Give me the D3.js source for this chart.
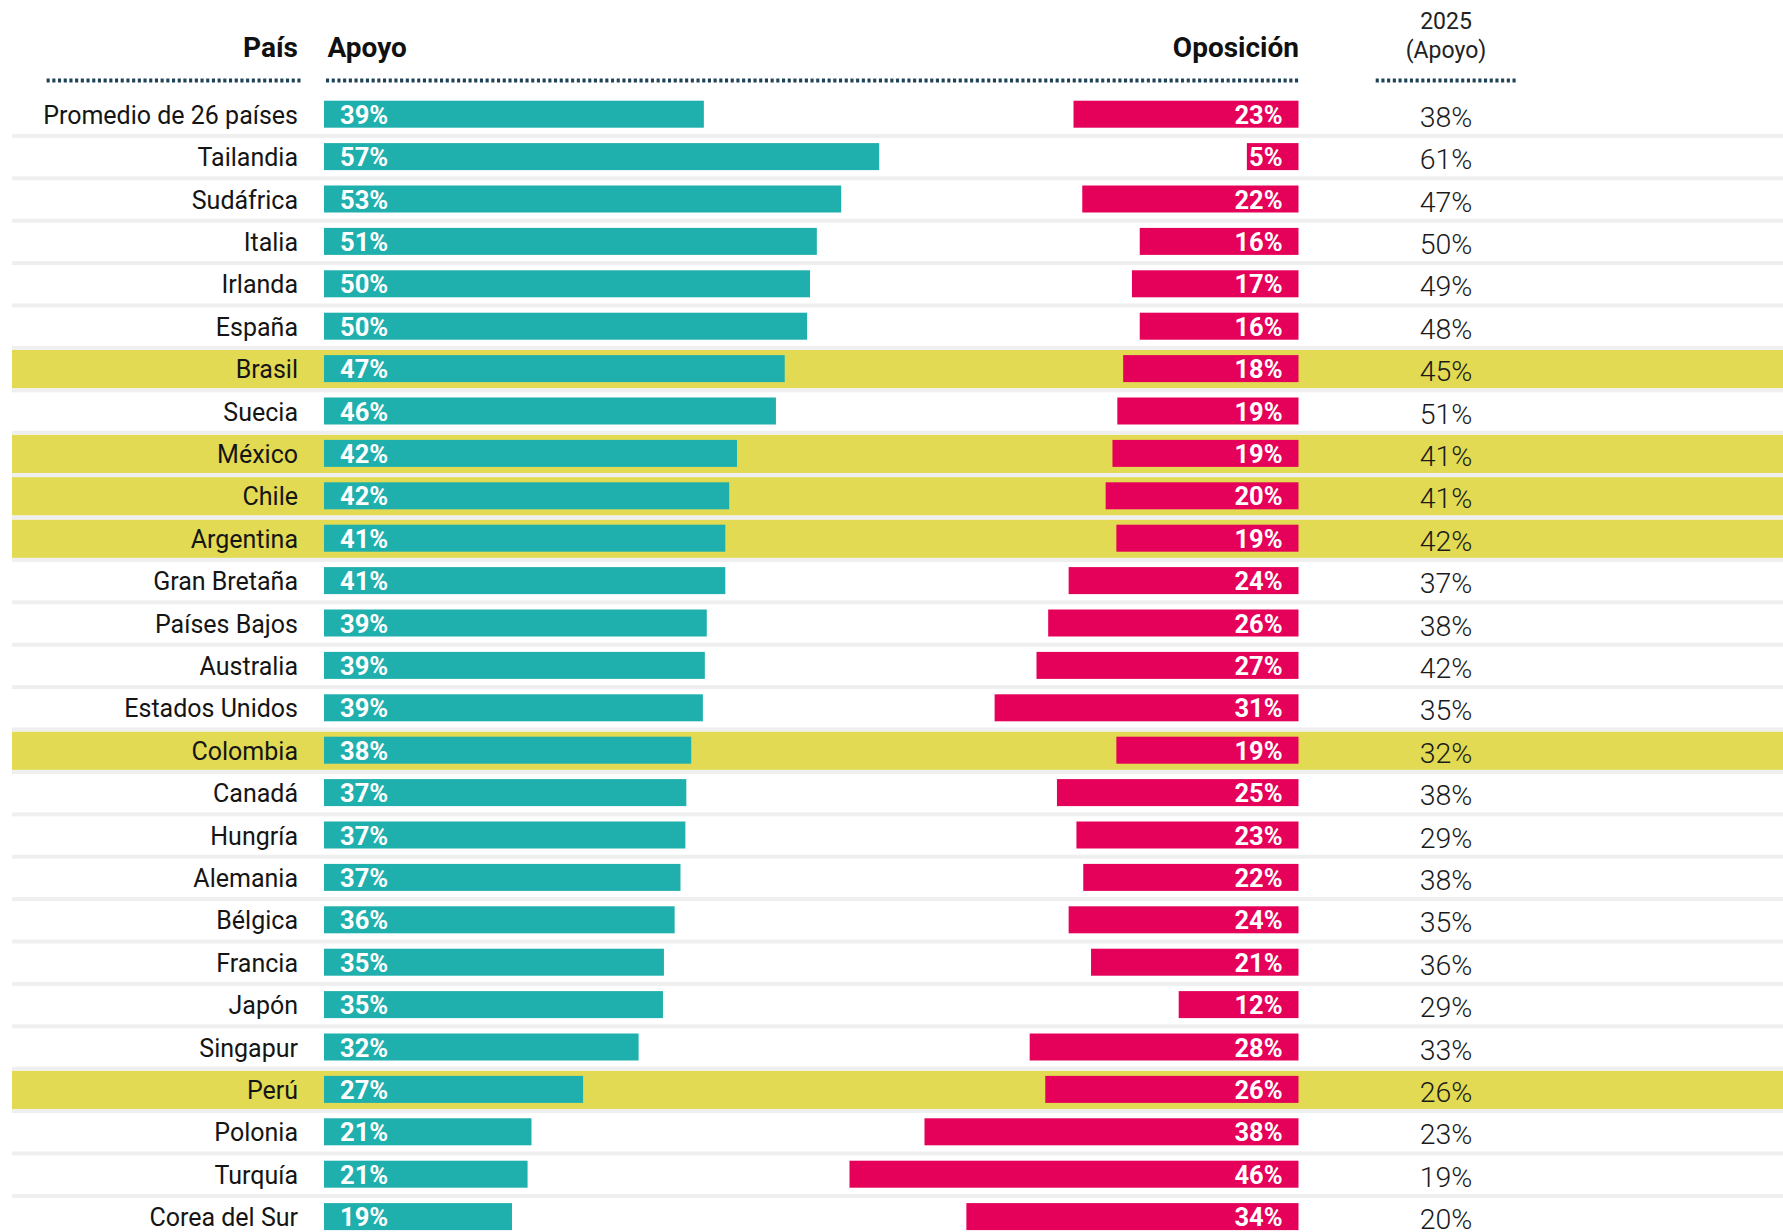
<!DOCTYPE html>
<html lang="es">
<head>
<meta charset="utf-8">
<script src="https://cdn.jsdelivr.net/npm/d3@7"></script>
<style>
  html, body { margin: 0; padding: 0; background: #fff; }
  svg { display: block; font-family: Roboto, "Noto Sans", sans-serif; }
  .country { font-size: 25px; fill: #151515; }
  .head { font-size: 28px; font-weight: 700; fill: #111; }
  .head-small { font-size: 23px; fill: #222; }
  .bar-label { font-size: 25.5px; font-weight: 700; fill: #fff; }
  .val2025 { font-size: 28.5px; font-weight: 300; fill: #1a1a1a; }
</style>
</head>
<body>
<svg id="chart"></svg>
<script>
const countries = [
  "Promedio de 26 países", "Tailandia", "Sudáfrica", "Italia", "Irlanda", "España",
  "Brasil", "Suecia", "México", "Chile", "Argentina", "Gran Bretaña", "Países Bajos",
  "Australia", "Estados Unidos", "Colombia", "Canadá", "Hungría", "Alemania", "Bélgica",
  "Francia", "Japón", "Singapur", "Perú", "Polonia", "Turquía", "Corea del Sur",
];
const apoyo = [
  39.0, 57.0, 53.1, 50.6, 49.9, 49.6, 47.3, 46.4, 42.4, 41.6, 41.2, 41.2, 39.3,
  39.1, 38.9, 37.7, 37.2, 37.1, 36.6, 36.0, 34.9, 34.8, 32.3, 26.6, 21.3, 20.9, 19.3,
];
const oposicion = [
  23.1, 5.3, 22.2, 16.3, 17.1, 16.3, 18.0, 18.6, 19.1, 19.8, 18.7, 23.6, 25.7,
  26.9, 31.2, 18.7, 24.8, 22.8, 22.1, 23.6, 21.3, 12.3, 27.6, 26.0, 38.4, 46.1, 34.1,
];
const apoyo2025 = [
  38, 61, 47, 50, 49, 48, 45, 51, 41, 41, 42, 37, 38,
  42, 35, 32, 38, 29, 38, 35, 36, 29, 33, 26, 23, 19, 20,
];
const highlighted = ["Brasil", "México", "Chile", "Argentina", "Colombia", "Perú"];

const data = countries.map((country, i) => ({
  country,
  apoyo: apoyo[i],
  oposicion: oposicion[i],
  v2025: apoyo2025[i],
}));

const outerWidth = 1783;
const outerHeight = 1232;
const svg = d3.select("#chart")
  .attr("width", outerWidth)
  .attr("height", outerHeight);

const rowTop = 93.5;
const rowStep = 42.4;
const y = d3.scaleBand()
  .domain(countries)
  .range([rowTop, rowTop + rowStep * countries.length])
  .padding(0);

const x = d3.scaleLinear().domain([0, 100]).range([0, 974]);
const apoyoStart = 324;
const oposEnd = 1298.5;
const labelRight = 298;
const col2025 = 1446;
const barH = 27;

// row highlight bands
svg.append("g")
  .selectAll("rect")
  .data(data.filter((d) => highlighted.includes(d.country)))
  .join("rect")
  .attr("x", 12)
  .attr("y", (d) => y(d.country) + 2)
  .attr("width", outerWidth - 12)
  .attr("height", y.bandwidth() - 4)
  .attr("fill", "#e2da52");

// row separators
svg.append("g")
  .selectAll("rect")
  .data(data.slice(1))
  .join("rect")
  .attr("x", 12)
  .attr("y", (d) => y(d.country) - 2)
  .attr("width", outerWidth - 12)
  .attr("height", 4)
  .attr("fill", "#efefef");

// headers
svg.append("text").attr("class", "head")
  .attr("x", labelRight).attr("y", 57).attr("text-anchor", "end").text("País");
svg.append("text").attr("class", "head")
  .attr("x", 327.5).attr("y", 57).text("Apoyo");
svg.append("text").attr("class", "head")
  .attr("x", 1299).attr("y", 57).attr("text-anchor", "end").text("Oposición");
svg.append("text").attr("class", "head-small")
  .attr("x", col2025).attr("y", 29).attr("text-anchor", "middle").text("2025");
svg.append("text").attr("class", "head-small")
  .attr("x", col2025).attr("y", 58).attr("text-anchor", "middle").text("(Apoyo)");

const dotted = [[46.6, 303], [326, oposEnd], [1375.7, 1516.7]];
svg.append("g")
  .selectAll("line")
  .data(dotted)
  .join("line")
  .attr("x1", (d) => d[0])
  .attr("x2", (d) => d[1])
  .attr("y1", 80.5)
  .attr("y2", 80.5)
  .attr("stroke", "#1d4258")
  .attr("stroke-width", 4)
  .attr("stroke-dasharray", "3.1 2.6");

const rows = svg.append("g")
  .selectAll("g")
  .data(data)
  .join("g")
  .attr("transform", (d) => `translate(0,${y(d.country) + y.bandwidth() / 2})`);

rows.append("text")
  .attr("class", "country")
  .attr("x", labelRight)
  .attr("y", 9)
  .attr("text-anchor", "end")
  .text((d) => d.country);

rows.append("rect")
  .attr("x", apoyoStart)
  .attr("y", -barH / 2 - 0.5)
  .attr("width", (d) => x(d.apoyo))
  .attr("height", barH)
  .attr("fill", "#1fb0ae");

rows.append("text")
  .attr("class", "bar-label")
  .attr("x", apoyoStart + 16)
  .attr("y", 9)
  .text((d) => `${Math.round(d.apoyo)}%`);

rows.append("rect")
  .attr("x", (d) => oposEnd - x(d.oposicion))
  .attr("y", -barH / 2 - 0.5)
  .attr("width", (d) => x(d.oposicion))
  .attr("height", barH)
  .attr("fill", "#e5005a");

rows.append("text")
  .attr("class", "bar-label")
  .attr("x", oposEnd - 16)
  .attr("y", 9)
  .attr("text-anchor", "end")
  .text((d) => `${Math.round(d.oposicion)}%`);

rows.append("text")
  .attr("class", "val2025")
  .attr("x", col2025)
  .attr("y", 12)
  .attr("text-anchor", "middle")
  .text((d) => `${d.v2025}%`);
</script>
</body>
</html>
